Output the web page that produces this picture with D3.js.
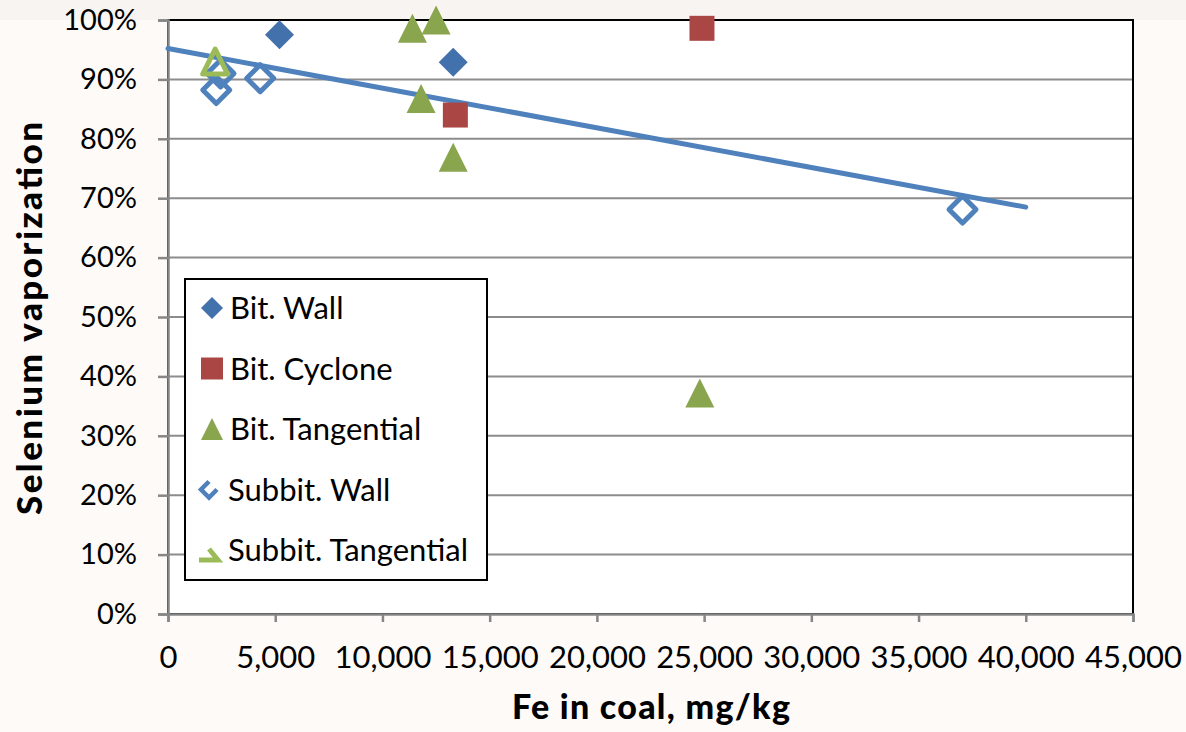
<!DOCTYPE html>
<html>
<head>
<meta charset="utf-8">
<script src="https://cdn.jsdelivr.net/npm/d3@7"></script>
<style>
  html, body { margin: 0; padding: 0; background: #fdfaf8; }
  svg { display: block; }
  text { font-family: Lato, "Open Sans", sans-serif; fill: #000; }
</style>
</head>
<body>
<svg id="chart" width="1186" height="732"></svg>
<script>
// Fe content of the coal (mg/kg) and fraction of selenium vaporized
const bitWallFe = [5200, 13300];
const bitWallSe = [0.975, 0.929];

const bitCycloneFe = [24900, 13400];
const bitCycloneSe = [0.986, 0.840];

const bitTangentialFe = [11400, 12500, 11800, 13300, 24800];
const bitTangentialSe = [0.986, 1.000, 0.868, 0.769, 0.372];

const subbitWallFe = [2250, 2450, 4300, 37050];
const subbitWallSe = [0.882, 0.910, 0.902, 0.681];

const subbitTangentialFe = [2200];
const subbitTangentialSe = [0.930];

// linear trend line endpoints
const trendFe = [0, 40000];
const trendSe = [0.952, 0.685];

const xTicks = [0, 5000, 10000, 15000, 20000, 25000, 30000, 35000, 40000, 45000];
const yTicks = [0, 0.1, 0.2, 0.3, 0.4, 0.5, 0.6, 0.7, 0.8, 0.9, 1.0];

const seriesNames = ["Bit. Wall", "Bit. Cyclone", "Bit. Tangential", "Subbit. Wall", "Subbit. Tangential"];

const svg = d3.select("#chart");
const plot = { left: 168, right: 1133, top: 20, bottom: 614 };

const x = d3.scaleLinear().domain([0, 45000]).range([plot.left, plot.right]);
const y = d3.scaleLinear().domain([0, 1]).range([plot.bottom, plot.top]);

const blueDark = "#4371ab", red = "#aa4643", greenDark = "#89a54e";
const blueLight = "#4f81bd", greenLight = "#9bbb59";
const gridColor = "#8c8c8c", axisColor = "#868686";

// faint band above the plot area
svg.append("rect")
  .attr("x", 0).attr("y", 0).attr("width", 1186).attr("height", plot.top)
  .attr("fill", "#f8f4f2");

// plot area
svg.append("rect")
  .attr("x", plot.left).attr("y", plot.top)
  .attr("width", plot.right - plot.left).attr("height", plot.bottom - plot.top)
  .attr("fill", "#fff");

// horizontal gridlines
svg.append("g").selectAll("line")
  .data(yTicks.filter(t => t > 0 && t < 1))
  .join("line")
  .attr("x1", plot.left).attr("x2", plot.right)
  .attr("y1", d => y(d)).attr("y2", d => y(d))
  .attr("stroke", gridColor).attr("stroke-width", 2);

// plot area frame
svg.append("rect")
  .attr("x", plot.left).attr("y", plot.top)
  .attr("width", plot.right - plot.left).attr("height", plot.bottom - plot.top)
  .attr("fill", "none").attr("stroke", "#000").attr("stroke-width", 2);

// axes
const xAxis = d3.axisBottom(x).tickValues(xTicks).tickSize(8).tickPadding(24)
  .tickFormat(d3.format(","));
const yAxis = d3.axisLeft(y).tickValues(yTicks).tickSize(10).tickPadding(21)
  .tickFormat(d3.format(".0%"));

const gx = svg.append("g").attr("transform", `translate(0,${plot.bottom})`).call(xAxis);
const gy = svg.append("g").attr("transform", `translate(${plot.left},0)`).call(yAxis);

[gx, gy].forEach(g => {
  g.select(".domain").attr("stroke", axisColor).attr("stroke-width", 2.5);
  g.selectAll(".tick line").attr("stroke", axisColor).attr("stroke-width", 2.5);
  g.selectAll(".tick text").attr("font-family", "Lato").attr("fill", "#000");
});
gx.selectAll(".tick text").attr("font-size", 31);
gy.selectAll(".tick text").attr("font-size", 29);

// trend line
svg.append("path")
  .datum(d3.zip(trendFe, trendSe))
  .attr("d", d3.line().x(d => x(d[0])).y(d => y(d[1])))
  .attr("fill", "none").attr("stroke", blueLight).attr("stroke-width", 5)
  .attr("stroke-linecap", "round");

// marker shapes
const diamond = r => `M0,${-r}L${r},0L0,${r}L${-r},0Z`;
const square = s => `M${-s / 2},${-s / 2}h${s}v${s}h${-s}Z`;
const triangle = (w, h) => `M0,${-h / 2}L${w / 2},${h / 2}L${-w / 2},${h / 2}Z`;

function drawSeries(fe, se, path, style) {
  svg.append("g").selectAll("path")
    .data(d3.zip(fe, se))
    .join("path")
    .attr("transform", d => `translate(${x(d[0])},${y(d[1])})`)
    .attr("d", path)
    .attr("fill", style.fill || "none")
    .attr("stroke", style.stroke || "none")
    .attr("stroke-width", style.strokeWidth || 0)
    .attr("stroke-linejoin", "round");
}

drawSeries(bitWallFe, bitWallSe, diamond(14.5), { fill: blueDark });
drawSeries(bitCycloneFe, bitCycloneSe, square(25), { fill: red });
drawSeries(bitTangentialFe, bitTangentialSe, triangle(29, 29), { fill: greenDark });
drawSeries(subbitWallFe, subbitWallSe, diamond(13.5), { stroke: blueLight, strokeWidth: 5 });
drawSeries(subbitTangentialFe, subbitTangentialSe, triangle(25, 25), { stroke: greenLight, strokeWidth: 5 });

// legend
const legend = svg.append("g");
legend.append("rect")
  .attr("x", 185).attr("y", 279).attr("width", 302).attr("height", 301)
  .attr("fill", "#fff").attr("stroke", "#000").attr("stroke-width", 2);

const legendSymbols = [
  { d: diamond(11), fill: blueDark },
  { d: square(22), fill: red },
  { d: triangle(22, 22), fill: greenDark },
  // outline symbols appear partially drawn in the legend
  { d: "M0,-8L-8,0L0,8L8,0", stroke: blueLight, sw: 4.5 },
  { d: "M0,-11L9,0L-10,0", stroke: greenLight, sw: 5, dy: 10 }
];

const rows = legend.selectAll("g.item")
  .data(seriesNames)
  .join("g")
  .attr("class", "item")
  .attr("transform", (d, i) => `translate(0,${308 + i * 60.5})`);

rows.append("path")
  .attr("transform", (d, i) => `translate(${i >= 3 ? 209 : 212},${legendSymbols[i].dy || 0})`)
  .attr("d", (d, i) => legendSymbols[i].d)
  .attr("fill", (d, i) => legendSymbols[i].fill || "none")
  .attr("stroke", (d, i) => legendSymbols[i].stroke || "none")
  .attr("stroke-width", (d, i) => legendSymbols[i].sw || 0);

rows.append("text")
  .attr("x", (d, i) => i >= 3 ? 228 : 230)
  .attr("dy", "0.36em")
  .attr("font-size", 31)
  .text(d => d);

// axis titles
svg.append("text")
  .attr("x", 651).attr("y", 719)
  .attr("text-anchor", "middle")
  .attr("font-size", 34).attr("font-weight", "900")
  .attr("textLength", 278).attr("lengthAdjust", "spacing")
  .text("Fe in coal, mg/kg");

svg.append("text")
  .attr("transform", "translate(42,318.5) rotate(-90)")
  .attr("text-anchor", "middle")
  .attr("font-size", 35).attr("font-weight", "900")
  .attr("textLength", 393).attr("lengthAdjust", "spacing")
  .text("Selenium vaporization");
</script>
</body>
</html>
